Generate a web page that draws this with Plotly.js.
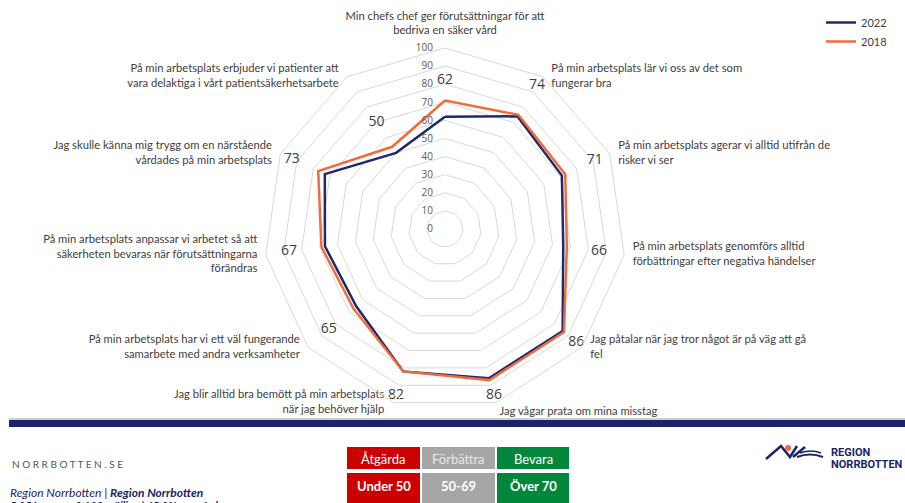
<!DOCTYPE html>
<html>
<head>
<meta charset="utf-8">
<script src="https://cdn.plot.ly/plotly-3.0.1.min.js"></script>
<style>
html,body{margin:0;padding:0;background:#fff;}
#chart{width:905px;height:503px;}
</style>
</head>
<body>
<div id="chart"></div>
<script>
// ---- data ----
var categories = [
  "Min chefs chef ger förutsättningar för att<br>bedriva en säker vård",
  "På min arbetsplats lär vi oss av det som<br>fungerar bra",
  "På min arbetsplats agerar vi alltid utifrån de<br>risker vi ser",
  "På min arbetsplats genomförs alltid<br>förbättringar efter negativa händelser",
  "Jag påtalar när jag tror något är på väg att gå<br>fel",
  "Jag vågar prata om mina misstag",
  "Jag blir alltid bra bemött på min arbetsplats<br>när jag behöver hjälp",
  "På min arbetsplats har vi ett väl fungerande<br>samarbete med andra verksamheter",
  "På min arbetsplats anpassar vi arbetet så att<br>säkerheten bevaras när förutsättningarna<br>förändras",
  "Jag skulle känna mig trygg om en närstående<br>vårdades på min arbetsplats",
  "På min arbetsplats erbjuder vi patienter att<br>vara delaktiga i vårt patientsäkerhetsarbete"
];
var values2022 = [62, 74, 71, 66, 86, 86, 82, 65, 67, 73, 50];
var values2018 = [71, 75, 73, 68, 87, 87, 82, 67, 69, 77, 54];
var seriesNames = ["2022", "2018"];
var radialTicks = [0, 10, 20, 30, 40, 50, 60, 70, 80, 90, 100];
var radialMax = 100;

// ---- helpers ----
function closed(a){ return a.concat([a[0]]); }
var W = 905, H = 503;
function px(x){ return x / W; }
function py(y){ return 1 - y / H; }

var navy = "#1f2a6e", orange = "#f26b3a";
var labelR = values2022.map(function(v){ return Math.min(v + 20, 96); });

// category label placement: side of the chart each label sits on
var n = categories.length;
var catPos = categories.map(function(c, i){
  var ang = i * 360 / n;
  if (ang < 1) return "top center";
  if (ang > 150 && ang < 180) return "bottom right";
  return ang < 180 ? "middle right" : "middle left";
});
var catMarker = categories.map(function(c, i){
  var ang = i * 360 / n;
  if (ang < 1) return 16;
  if (ang > 150 && ang < 180) return 4;
  if (ang >= 180 && ang < 210) return 14;
  return 12;
});

var traces = [
  {type:"scatterpolar", mode:"lines", name:seriesNames[0],
   r:closed(values2022), theta:closed(categories),
   line:{color:navy, width:2.5}, hoverinfo:"skip"},
  {type:"scatterpolar", mode:"lines", name:seriesNames[1],
   r:closed(values2018), theta:closed(categories),
   line:{color:orange, width:2.5}, hoverinfo:"skip"},
  {type:"scatterpolar", mode:"text", showlegend:false,
   r:labelR, theta:categories, text:values2022.map(String),
   textfont:{family:"Open Sans, sans-serif", size:14, color:"#404040"},
   cliponaxis:false, hoverinfo:"skip"},
  {type:"scatterpolar", mode:"markers+text", showlegend:false,
   r:categories.map(function(){ return radialMax; }), theta:categories, text:categories,
   textposition:catPos,
   marker:{size:catMarker, color:"rgba(0,0,0,0)"},
   textfont:{family:"Lato, sans-serif", size:11.2, color:"#404040"},
   cliponaxis:false, hoverinfo:"skip"}
];

var shapes = [
  {type:"line", xref:"paper", yref:"paper", x0:px(9), x1:px(905), y0:py(419), y1:py(419), line:{color:"#a0a0a0", width:1}},
  {type:"rect", xref:"paper", yref:"paper", x0:px(9), x1:px(905), y0:py(427), y1:py(420), fillcolor:"#1b2466", line:{width:0}},
  {type:"rect", xref:"paper", yref:"paper", x0:px(347), x1:px(420), y0:py(469), y1:py(447), fillcolor:"#cc0000", line:{width:0}},
  {type:"rect", xref:"paper", yref:"paper", x0:px(422), x1:px(495), y0:py(469), y1:py(447), fillcolor:"#a6a6a6", line:{width:0}},
  {type:"rect", xref:"paper", yref:"paper", x0:px(497), x1:px(569), y0:py(469), y1:py(447), fillcolor:"#00873c", line:{width:0}},
  {type:"rect", xref:"paper", yref:"paper", x0:px(347), x1:px(420), y0:py(503), y1:py(473), fillcolor:"#cc0000", line:{width:0}},
  {type:"rect", xref:"paper", yref:"paper", x0:px(422), x1:px(495), y0:py(503), y1:py(473), fillcolor:"#a6a6a6", line:{width:0}},
  {type:"rect", xref:"paper", yref:"paper", x0:px(497), x1:px(569), y0:py(503), y1:py(473), fillcolor:"#00873c", line:{width:0}},
  // logo mark
  {type:"path", xref:"paper", yref:"paper",
   path:"M"+px(766)+","+py(459)+" L"+px(781)+","+py(446)+" L"+px(790)+","+py(457)+" L"+px(797)+","+py(446),
   line:{color:"#1b2466", width:2.5}},
  {type:"path", xref:"paper", yref:"paper",
   path:"M"+px(793)+","+py(457)+" L"+px(805)+","+py(447),
   line:{color:"#1b2466", width:2.5}},
  {type:"path", xref:"paper", yref:"paper",
   path:"M"+px(797)+","+py(457)+" Q"+px(810)+","+py(452)+" "+px(823)+","+py(457),
   line:{color:"#1b2466", width:2}},
  {type:"path", xref:"paper", yref:"paper",
   path:"M"+px(800)+","+py(453)+" Q"+px(811)+","+py(449)+" "+px(821)+","+py(453),
   line:{color:"#1b2466", width:1.5}},
  {type:"circle", xref:"paper", yref:"paper", x0:px(785), x1:px(791), y0:py(451), y1:py(445), fillcolor:"#f26b3a", line:{width:0}}
];

var ann = function(text, x, y, opts){
  var a = {text:text, xref:"paper", yref:"paper", x:px(x), y:py(y), showarrow:false,
           xanchor:"center", yanchor:"middle",
           font:{family:"Lato, sans-serif", size:12, color:"#fff"}};
  for (var k in opts) a[k] = opts[k];
  return a;
};

var annotations = [
  ann("N O R R B O T T E N . S E", 10, 464, {xanchor:"left", font:{family:"Lato, sans-serif", size:10, color:"#555"}}),
  ann("<i>Region Norrbotten | <b>Region Norrbotten</b></i>", 8, 492, {xanchor:"left", font:{family:"Lato, sans-serif", size:12, color:"#1b2466"}}),
  ann("<b><i>5 951 svar av 9 183 möjliga | 65,0% svarsfrekvens</i></b>", 8, 505, {xanchor:"left", font:{family:"Lato, sans-serif", size:11, color:"#1b2466"}}),
  ann("Åtgärda", 383.5, 459, {font:{family:"Lato, sans-serif", size:13, color:"#ffffff"}}),
  ann("Förbättra", 458.5, 459, {font:{family:"Lato, sans-serif", size:13, color:"#e8e8e8"}}),
  ann("Bevara", 533, 459, {font:{family:"Lato, sans-serif", size:13, color:"#ffffff"}}),
  ann("<b>Under 50</b>", 383.5, 486, {font:{family:"Lato, sans-serif", size:13, color:"#ffffff"}}),
  ann("<b>50-69</b>", 458.5, 486, {font:{family:"Lato, sans-serif", size:13, color:"#ffffff"}}),
  ann("<b>Över 70</b>", 533, 486, {font:{family:"Lato, sans-serif", size:13, color:"#ffffff"}}),
  ann("<b>REGION</b>", 829, 452, {xanchor:"left", font:{family:"Roboto, sans-serif", size:11, color:"#1b2466"}}),
  ann("<b>NORRBOTTEN</b>", 829, 464, {xanchor:"left", font:{family:"Roboto, sans-serif", size:11, color:"#1b2466"}})
];

var layout = {
  width: W, height: H,
  margin:{l:0, r:0, t:0, b:0},
  paper_bgcolor:"#fff",
  showlegend:true,
  legend:{x:px(821), y:py(8), xanchor:"left", yanchor:"top",
          font:{family:"Lato, sans-serif", size:11, color:"#404040"},
          tracegroupgap:4, itemwidth:30, bgcolor:"rgba(0,0,0,0)"},
  polar:{
    domain:{x:[px(445-181), px(445+181)], y:[py(229+181), py(229-181)]},
    bgcolor:"#fff",
    gridshape:"linear",
    radialaxis:{range:[0,radialMax], tickvals:radialTicks, angle:90, side:"counterclockwise",
                tickangle:90,
                showline:false, ticks:"outside", ticklen:8, tickcolor:"rgba(0,0,0,0)",
                gridcolor:"#d9d9d9", gridwidth:1,
                tickfont:{family:"Open Sans, sans-serif", size:10, color:"#595959"}},
    angularaxis:{direction:"clockwise", rotation:90, showgrid:false,
                 linecolor:"#d9d9d9", linewidth:1, showticklabels:false, ticks:""}
  },
  shapes: shapes,
  annotations: annotations
};

Plotly.newPlot("chart", traces, layout, {displayModeBar:false, staticPlot:true});
</script>
</body>
</html>
